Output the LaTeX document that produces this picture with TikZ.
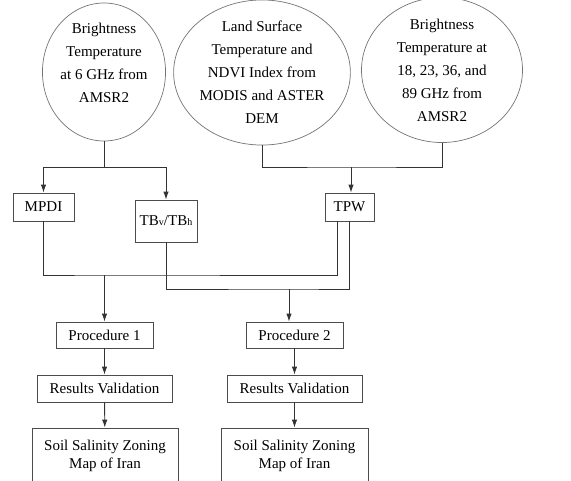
\documentclass[tikz,border=0pt]{standalone}
\usepackage{fontspec}
\setmainfont{Liberation Serif}
\usetikzlibrary{arrows.meta,shapes.geometric}
\begin{document}
\begin{tikzpicture}[x=1pt,y=-1pt,
    font=\fontsize{15}{23}\selectfont,
    src/.style={ellipse,draw=black!55,line width=0.7pt,align=center,inner sep=0pt},
    box/.style={rectangle,draw=black!70,line width=0.9pt,align=center,inner sep=0pt},
    link/.style={draw=black!80,line width=0.9pt},
    arr/.style={link,-{Latex[length=8pt,width=5.5pt]}}]
      \useasboundingbox (0,0) rectangle (571,480);

      % 数据源
      \node[src,minimum width=122pt,minimum height=138pt] (src6) at (104,72)
        {Brightness\\Temperature\\at 6 GHz from\\AMSR2\\[-5pt]\mbox{}};
      \node[src,minimum width=145pt,minimum height=135pt] (srcLST) at (262,72.5)
        {Land Surface\\Temperature and\\NDVI Index from\\MODIS and ASTER\\DEM};
      \node[src,minimum width=161pt,minimum height=136pt] (srcTB) at (442,70)
        {Brightness\\Temperature at\\18, 23, 36, and\\89 GHz from\\AMSR2};

      % 指标
      \node[box,minimum width=61pt,minimum height=28pt] (mpdi) at (43.5,207) {MPDI};
      \node[box,minimum width=62pt,minimum height=42pt] (tbvh) at (166,221)
        {TB{\fontsize{10}{10}\selectfont v}/TB{\fontsize{10}{10}\selectfont h}};
      \node[box,minimum width=49pt,minimum height=28pt] (tpw) at (349.5,207) {TPW};

      % 两种方法
      \node[box,minimum width=97pt,minimum height=26pt] (proc1) at (104.5,335) {Procedure 1};
      \node[box,minimum width=97pt,minimum height=26pt] (proc2) at (294.5,335) {Procedure 2};
      \node[box,minimum width=135pt,minimum height=27pt] (val1) at (104.5,388.5) {Results Validation};
      \node[box,minimum width=135pt,minimum height=27pt] (val2) at (294.5,388.5) {Results Validation};
      \node[box,minimum width=146pt,minimum height=56pt,font=\fontsize{15}{18.5}\selectfont] (map1) at (105,456)
        {Soil Salinity Zoning\\Map of Iran};
      \node[box,minimum width=147pt,minimum height=56pt,font=\fontsize{15}{18.5}\selectfont] (map2) at (294.5,456)
        {Soil Salinity Zoning\\Map of Iran};

      % 分支
      \coordinate (fork1) at (104,167);
      \coordinate (fork2) at (351,167);
      \draw[link] (src6.south) -- (fork1);
      \draw[arr] (fork1) -| (mpdi.north);
      \draw[arr] (fork1) -| (tbvh.north);
      \draw[link] (srcLST.south) |- (fork2) -| (srcTB.south);
      \draw[arr] (fork2) -- (fork2 |- tpw.north);

      % 汇合
      \coordinate (merge1) at (104.5,275);
      \coordinate (merge2) at (289,289);
      \draw[link] (mpdi.south) |- (merge1) -| ([xshift=-12pt]tpw.south);
      \draw[link] (tbvh.south) |- (merge2) -| (tpw.south);
      \draw[arr] (merge1) -- (proc1.north);
      \draw[arr] (merge2) -- (merge2 |- proc2.north);

      \draw[arr] (proc1) -- (val1);
      \draw[arr] (val1) -- (map1);
      \draw[arr] (proc2) -- (val2);
      \draw[arr] (val2) -- (map2);
    \end{tikzpicture}
\end{document}
